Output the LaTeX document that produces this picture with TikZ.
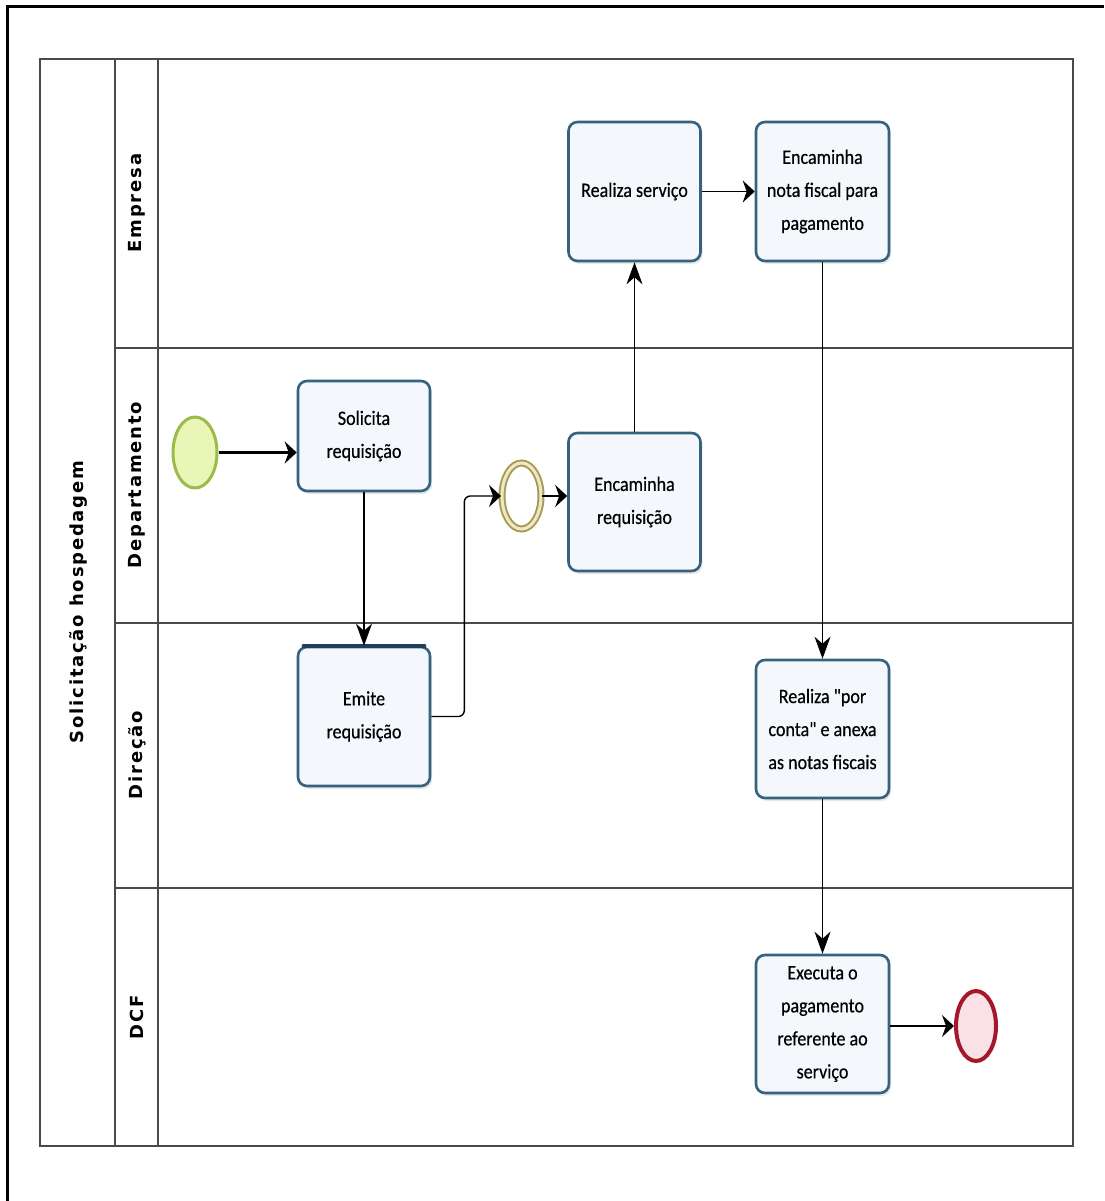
\documentclass[tikz,border=0pt]{standalone}
\usepackage{fontspec}
\usetikzlibrary{shapes.geometric,arrows.meta,shadows}

\newfontfamily\taskfont[FakeStretch=0.88, FakeBold=0.4]{Carlito}
\newfontfamily\lanefont[LetterSpace=10]{DejaVu Sans}

\definecolor{taskline}{HTML}{35637F}
\definecolor{taskfill}{HTML}{F4F7FB}
\definecolor{tasktop}{HTML}{1F3F5A}
\definecolor{startline}{HTML}{9DBB4A}
\definecolor{startfill}{HTML}{EAF5B8}
\definecolor{midline}{HTML}{A99A58}
\definecolor{midfill}{HTML}{EFE8C4}
\definecolor{endline}{HTML}{A3182B}
\definecolor{endfill}{HTML}{F9E1E5}
\definecolor{poolline}{HTML}{4A4A4A}

\tikzset{
  task/.style={rectangle, rounded corners=9pt, draw=taskline, line width=2.6pt,
    fill=taskfill, minimum width=132pt, minimum height=138pt, align=center,
    font=\taskfont\fontsize{20.5}{33}\selectfont,
    drop shadow={opacity=0.18, shadow xshift=2pt, shadow yshift=-3pt}},
  lanelabel/.style={rotate=90, font=\lanefont\bfseries\fontsize{18}{20}\selectfont},
  startev/.style={ellipse, draw=startline, line width=3pt, fill=startfill,
    minimum width=44pt, minimum height=71pt, inner sep=0pt},
  midev/.style={ellipse, draw=midline, line width=2pt, double=midfill,
    double distance=3pt, fill=white, minimum width=39pt, minimum height=66pt, inner sep=0pt},
  endev/.style={ellipse, draw=endline, line width=4pt, fill=endfill,
    minimum width=40pt, minimum height=70pt, inner sep=0pt},
  hflow/.style={draw=black, line width=1.4pt, -{Stealth[length=12pt, width=22pt, inset=4pt]}},
  vflow/.style={draw=black, line width=1.4pt, -{Stealth[length=22pt, width=16pt, inset=7pt]}},
  lane/.style={draw=poolline, line width=1.4pt}
}

\begin{document}
\begin{tikzpicture}[x=1pt, y=-1pt]
  \useasboundingbox (0,0) rectangle (1104,1201);
  \fill[white] (0,0) rectangle (1104,1201);

  % outer frame (top and left edges)
  \draw[line width=3pt] (7,1201) -- (7,7) -- (1104,7);

  % pool and lanes
  \draw[draw=poolline, line width=1.8pt] (40,59) rectangle (1073,1146);
  \draw[lane] (115,59) -- (115,1146);
  \draw[lane] (158,59) -- (158,1146);
  \draw[lane, line width=2.8pt] (115,348) -- (1073,348);
  \draw[lane] (115,623) -- (1073,623);
  \draw[lane] (115,888) -- (1073,888);

  \node[lanelabel] (pool) at (78,602) {Solicitação hospedagem};
  \node[lanelabel] (lempresa) at (137,203) {Empresa};
  \node[lanelabel] (ldepto) at (137,485) {Departamento};
  \node[lanelabel] (ldirecao) at (137,755) {Direção};
  \node[lanelabel] (ldcf) at (137,1017) {DCF};

  % tasks
  \node[task, minimum height=110pt] (solicita) at (364,436) {Solicita\\requisição};
  \node[task, minimum height=139pt] (emite) at (364,716.5) {Emite\\requisição};
  \draw[tasktop, line width=4pt, line cap=round]
    ([xshift=7pt]emite.north west) -- ([xshift=-7pt]emite.north east);
  \node[task] (encreq) at (634.5,502) {Encaminha\\requisição};
  \node[task, minimum height=139pt] (realiza) at (634.5,191.5) {Realiza serviço};
  \node[task, minimum width=133pt, minimum height=139pt] (encnota) at (822.5,191.5)
    {Encaminha\\nota fiscal para\\pagamento};
  \node[task, minimum width=133pt] (porconta) at (822.5,729)
    {Realiza "por\\conta" e anexa\\as notas fiscais};
  \node[task, minimum width=133pt] (executa) at (822.5,1024)
    {Executa o\\pagamento\\referente ao\\serviço};

  % events
  \node[startev] (start) at (195,452.5) {};
  \node[midev] (inter) at (521.5,496) {};
  \node[endev] (fim) at (976,1026) {};

  % sequence flows
  \draw[hflow, line width=3pt] (start.east) -- (start.east -| solicita.west);
  \draw[vflow] (solicita.south) -- (emite.north);
  \draw[hflow, rounded corners=6pt] (emite.east) -- ++(33,0) |- (inter.west);
  \draw[hflow] (inter.east) -- (inter.east -| encreq.west);
  \draw[vflow] (encreq.north) -- (realiza.south);
  \draw[hflow] (realiza.east) -- (encnota.west);
  \draw[vflow] (encnota.south) -- (porconta.north);
  \draw[vflow] (porconta.south) -- (executa.north);
  \draw[hflow] (fim.west -| executa.east) -- (fim.west);
\end{tikzpicture}
\end{document}
